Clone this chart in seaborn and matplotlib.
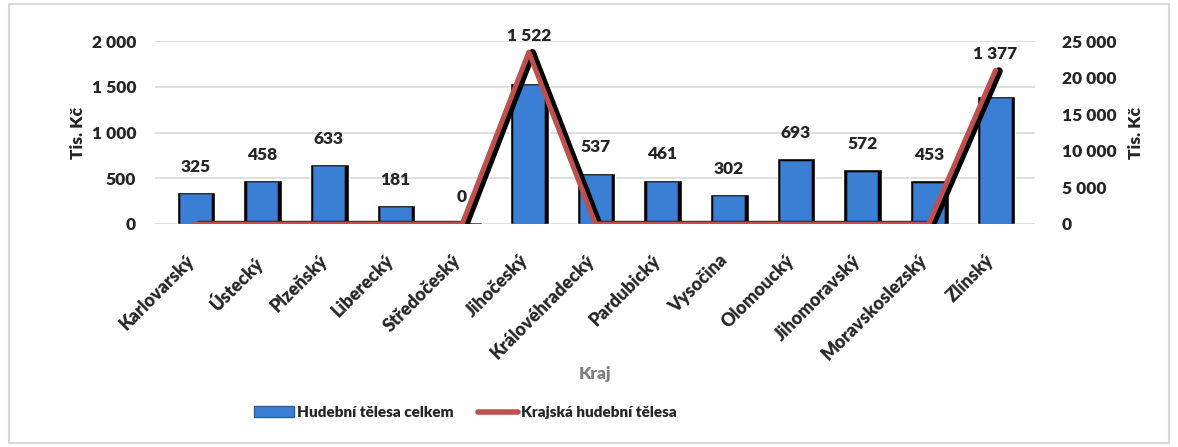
import numpy as np
import pandas as pd
import seaborn as sns
import matplotlib.pyplot as plt
import matplotlib.patheffects as pe
import matplotlib.transforms as mtransforms
from matplotlib.patches import Rectangle
from matplotlib.lines import Line2D
from matplotlib.ticker import FuncFormatter

regions = ["Karlovarský", "Ústecký", "Plzeňský", "Liberecký", "Středočeský", "Jihočeský",
           "Královéhradecký", "Pardubický", "Vysočina", "Olomoucký", "Jihomoravský",
           "Moravskoslezský", "Zlínský"]
celkem = [325, 458, 633, 181, 0, 1522, 537, 461, 302, 693, 572, 453, 1377]
krajska = [0, 0, 0, 0, 0, 23500, 0, 0, 0, 0, 0, 0, 21000]

df = pd.DataFrame({"Kraj": regions, "celkem": celkem, "krajska": krajska})
df["pos"] = np.arange(len(df))

sns.set_theme(style="white")
plt.rcParams["font.family"] = ["Lato", "DejaVu Sans"]
W = "heavy"

fig = plt.figure(figsize=(11.78, 4.47), dpi=100)
ax = fig.add_axes([0.132, 0.499, 0.747, 0.409])

# black "3D" outline behind the bars
ax.bar(df["pos"] + 0.01, df["celkem"] + 25, width=0.58, color="black", zorder=1)
sns.barplot(data=df, x="Kraj", y="celkem", color="#3b7fd4", width=0.46, saturation=1,
            edgecolor="#2a5f9e", linewidth=0.6, ax=ax, zorder=2)

ax.set_ylim(0, 2000)
ax.set_xlim(-0.6, len(df) - 0.4)
ax.set_yticks(range(0, 2001, 500))
fmt = FuncFormatter(lambda v, p: f"{int(v):,}".replace(",", " "))
ax.yaxis.set_major_formatter(fmt)
ax.grid(axis="y", color="#d9d9d9", linewidth=1.2, zorder=0)
ax.set_axisbelow(True)
for s in ax.spines.values():
    s.set_visible(False)
ax.tick_params(axis="y", labelsize=12.5, pad=14, length=0)
ax.tick_params(axis="x", labelsize=13, length=0, pad=20)
shift = mtransforms.ScaledTranslation(-10 / 100, 0, fig.dpi_scale_trans)
for lbl in ax.get_xticklabels():
    lbl.set_rotation(45)
    lbl.set_ha("right")
    lbl.set_rotation_mode("anchor")
    lbl.set_fontweight(W)
    lbl.set_transform(lbl.get_transform() + shift)
plt.setp(ax.get_yticklabels(), fontweight=W)
ax.set_ylabel("Tis. Kč", fontsize=12.5, fontweight=W, labelpad=4)
ax.set_xlabel("Kraj", fontsize=12.5, fontweight=W, color="#7f7f7f", labelpad=2)

ax2 = ax.twinx()
sns.lineplot(data=df, x="pos", y="krajska", color="#c0504d", linewidth=3.6, ax=ax2,
             path_effects=[pe.SimpleLineShadow(offset=(2.5, -0.5), shadow_color="black", alpha=1,
                                               linewidth=5.5), pe.Normal()])
ax2.set_ylim(0, 25000)
ax2.set_yticks(range(0, 25001, 5000))
ax2.yaxis.set_major_formatter(fmt)
ax2.tick_params(axis="y", labelsize=12.5, pad=19, length=0)
plt.setp(ax2.get_yticklabels(), fontweight=W)
ax2.set_ylabel("Tis. Kč", fontsize=12.5, fontweight=W, labelpad=8)
ax2.grid(False)
for s in ax2.spines.values():
    s.set_visible(False)
ax2.set_xlim(ax.get_xlim())

# value labels
for i, row in df.iterrows():
    line_left = row["krajska"] / 25000 * 2000
    if line_left > row["celkem"]:
        y, off = line_left, 6
    else:
        y, off = row["celkem"], 14
    ax2.annotate(f"{row['celkem']:,}".replace(",", " "), (row["pos"], y / 2000 * 25000),
                 xytext=(0, off), textcoords="offset points", ha="center", va="bottom",
                 fontsize=12.5, fontweight=W)

handles = [Rectangle((0, 0), 1, 1, facecolor="#3b7fd4", edgecolor="#2a5f9e"),
           Line2D([0], [0], color="#c0504d", linewidth=4)]
fig.legend(handles, ["Hudební tělesa celkem", "Krajská hudební tělesa"], loc="center",
           bbox_to_anchor=(0.395, 0.077), ncol=2, frameon=False,
           handlelength=2.6, columnspacing=1.6, handletextpad=0.2,
           prop={"weight": W, "size": 11})

fig.patches.append(Rectangle((0.008, 0.01), 0.984, 0.98, transform=fig.transFigure,
                             fill=False, edgecolor="#d9d9d9", linewidth=1.5))

fig.savefig("out.png", dpi=100)
